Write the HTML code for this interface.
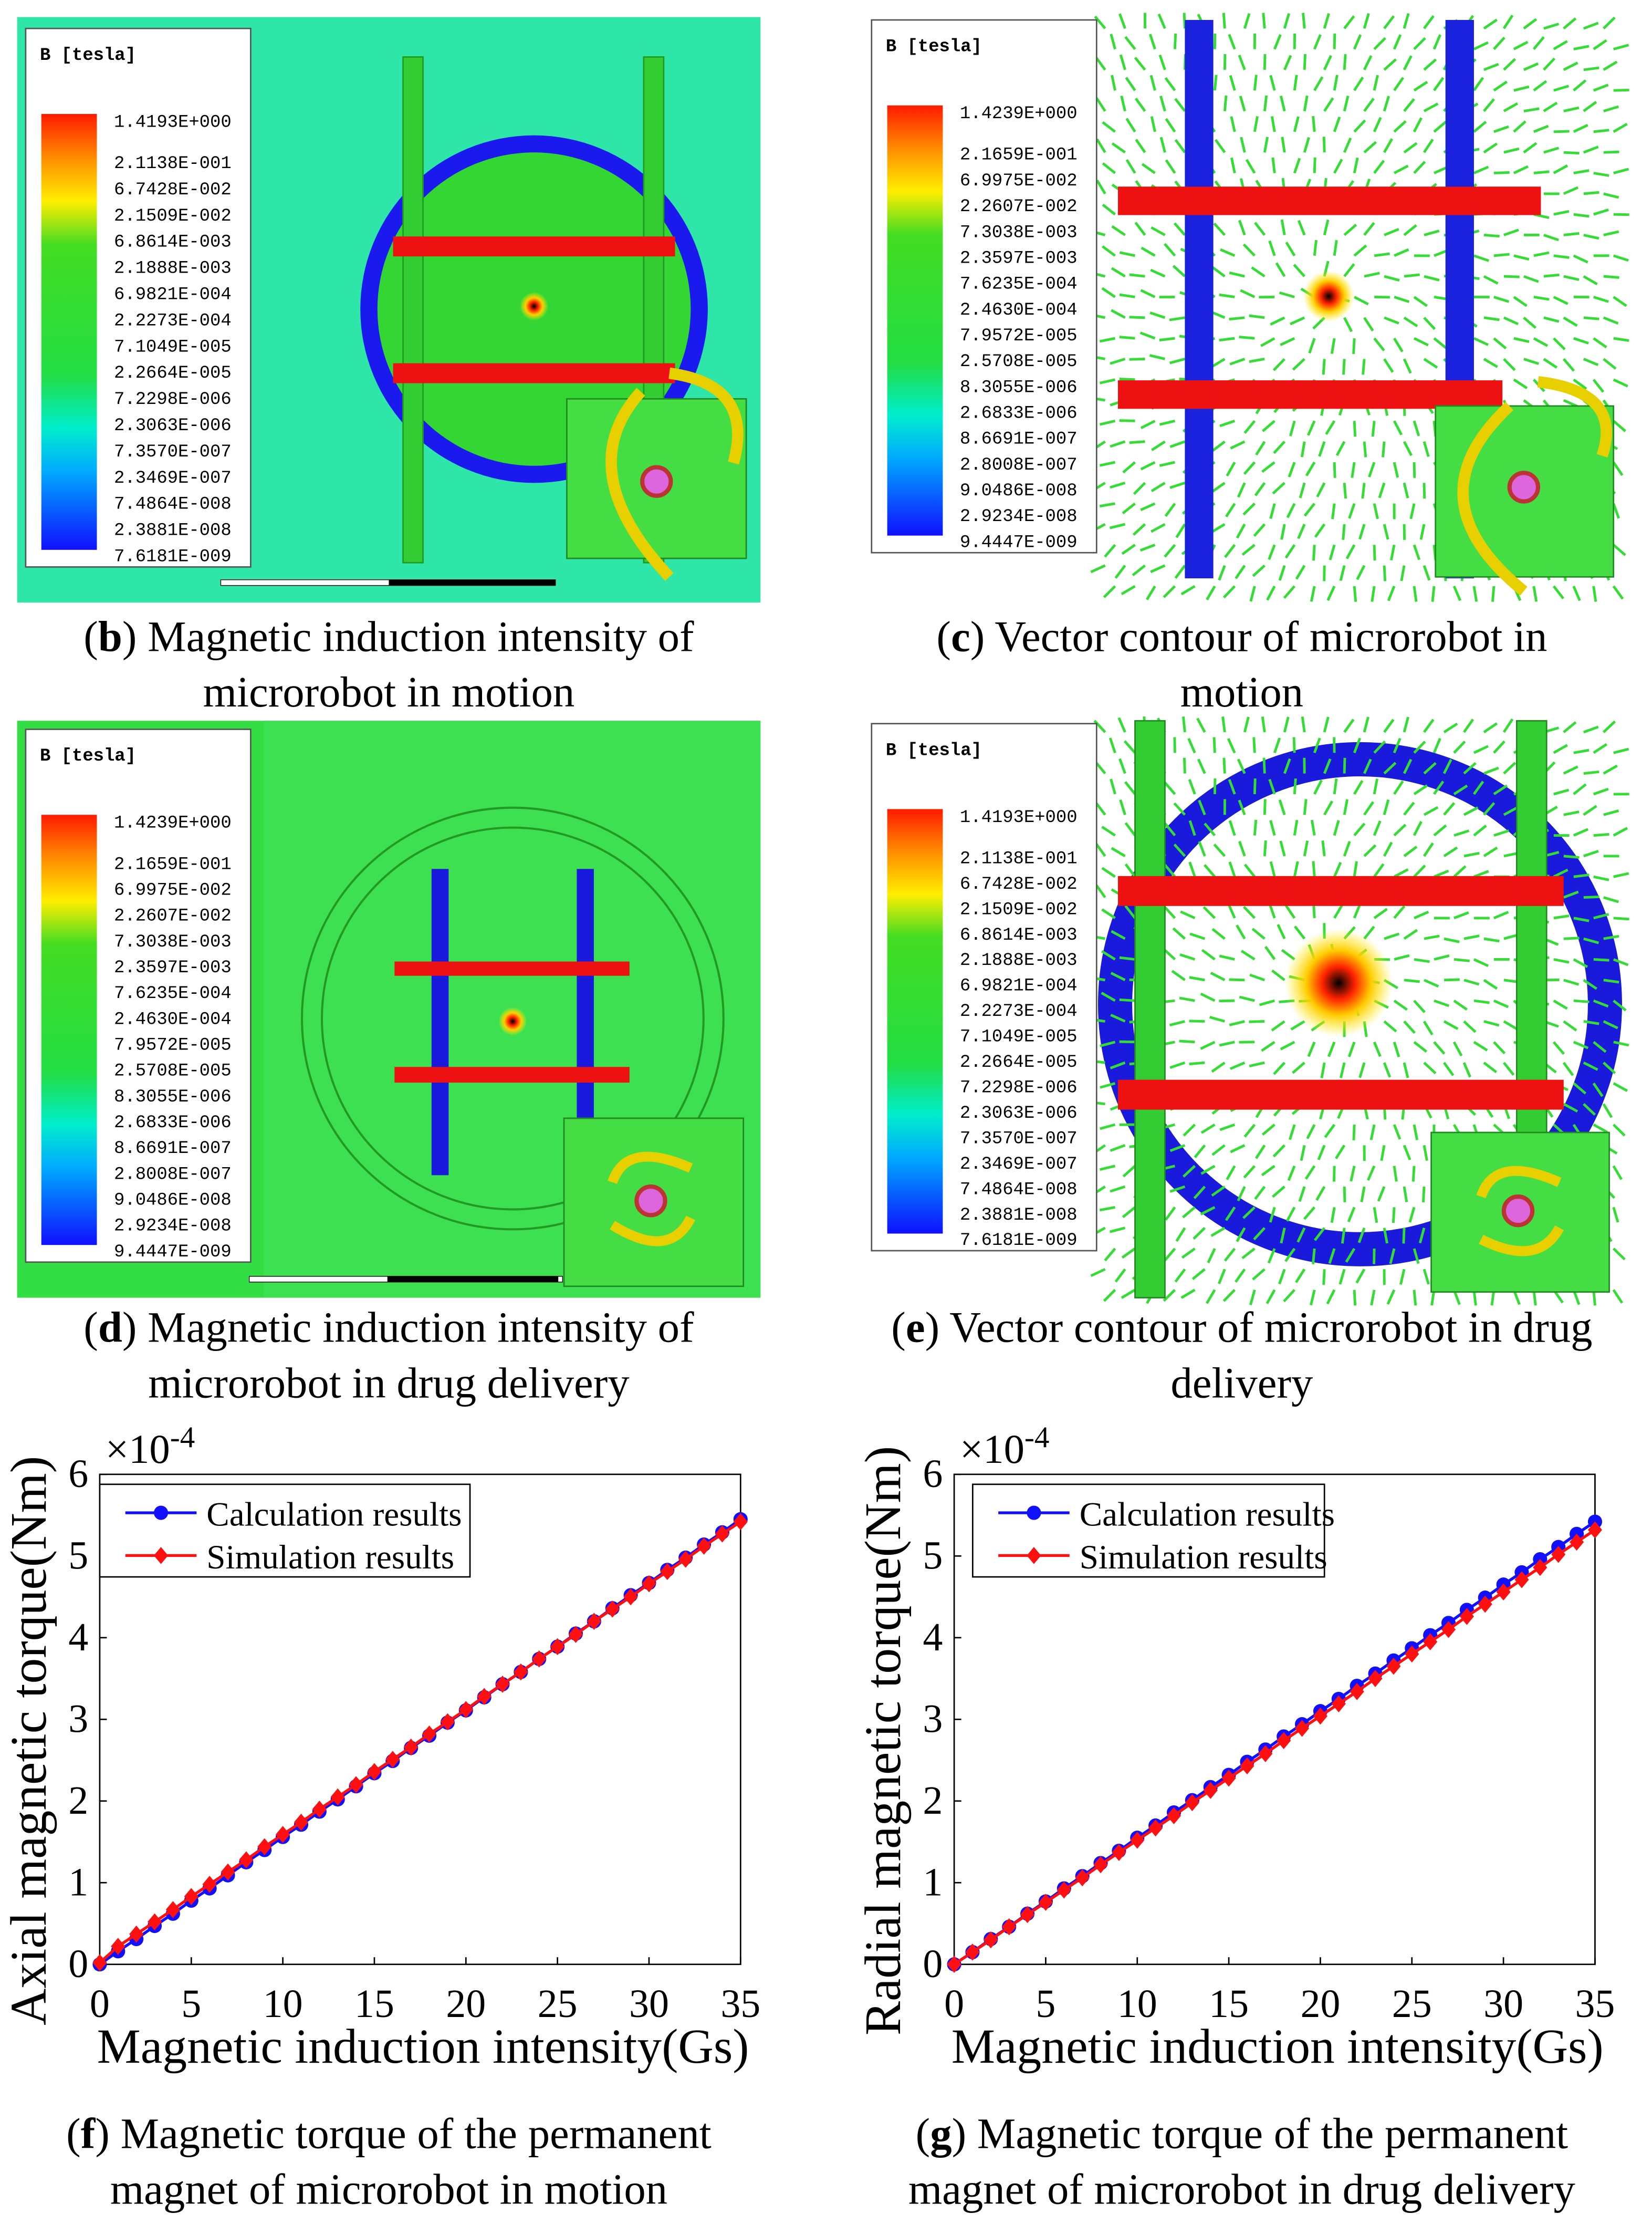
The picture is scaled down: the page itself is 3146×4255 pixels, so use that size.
<!DOCTYPE html>
<html><head><meta charset="utf-8"><style>
html,body{margin:0;padding:0;background:#fff;}
svg{display:block;}
.cap{font-family:"Liberation Serif",serif;font-size:30.5px;fill:#000;}
.leg{font-family:"Liberation Mono",monospace;font-size:12.5px;fill:#000;}
.tick{font-family:"Liberation Serif",serif;font-size:28px;fill:#000;}
</style></head><body>
<svg id="s" width="3146" height="4255" viewBox="0 0 1160 1569" xmlns="http://www.w3.org/2000/svg">
<defs>
<linearGradient id="cb" x1="0" y1="0" x2="0" y2="1">
<stop offset="0" stop-color="#ff1a00"/><stop offset="0.1" stop-color="#ff8c00"/><stop offset="0.2" stop-color="#ffee00"/><stop offset="0.3" stop-color="#44dd22"/><stop offset="0.6" stop-color="#22dd44"/><stop offset="0.72" stop-color="#00eecc"/><stop offset="0.82" stop-color="#00aaff"/><stop offset="1" stop-color="#1010ff"/>
</linearGradient>
<radialGradient id="hot"><stop offset="0" stop-color="#000"/><stop offset="0.3" stop-color="#ff2200"/><stop offset="0.6" stop-color="#ffcc00"/><stop offset="1" stop-color="#ffee00" stop-opacity="0"/></radialGradient>
</defs>

<g>
<rect x="12" y="12" width="522" height="411" fill="#2ee6a8"/>
<circle cx="375" cy="217" r="122" fill="#1a1aee"/>
<circle cx="375" cy="217" r="110" fill="#33d633"/>
<rect x="283" y="40" width="14" height="355" fill="#33cc33" stroke="#229922"/>
<rect x="452" y="40" width="14" height="355" fill="#33cc33" stroke="#229922"/>
<rect x="276" y="166" width="198" height="14" fill="#ee1111"/>
<rect x="276" y="255" width="198" height="14" fill="#ee1111"/>
<circle cx="375" cy="215" r="10" fill="url(#hot)"/>
<rect x="398" y="280" width="126" height="112" fill="#44dd44" stroke="#228822"/>
<circle cx="461" cy="338" r="10" fill="#dd66dd" stroke="#bb3333" stroke-width="3"/>
<path d="M450 275 Q400 330 470 405" fill="none" stroke="#e8d000" stroke-width="8"/>
<path d="M470 262 Q530 270 515 325" fill="none" stroke="#e8d000" stroke-width="8"/>
<rect x="155" y="407" width="235" height="4" fill="#fff" stroke="#000" stroke-width="0.5"/><rect x="273" y="407" width="117" height="4" fill="#000"/>
</g>
<g>
<rect x="770" y="12" width="365" height="406" fill="#fff"/>
<g id="arrC" stroke="#33dd33" stroke-width="1.8"></g>
<rect x="832" y="14" width="20" height="392" fill="#1a22dd"/>
<rect x="1015" y="14" width="20" height="392" fill="#1a22dd"/>
<rect x="785" y="131" width="297" height="20" fill="#ee1111"/>
<rect x="785" y="267" width="270" height="20" fill="#ee1111"/>
<circle cx="933" cy="208" r="18" fill="url(#hot)"/>
<rect x="1008" y="285" width="125" height="120" fill="#44dd44" stroke="#228822"/>
<circle cx="1070" cy="342" r="10" fill="#dd66dd" stroke="#bb3333" stroke-width="3"/>
<path d="M1060 285 Q990 350 1070 415" fill="none" stroke="#e8d000" stroke-width="8"/>
<path d="M1080 268 Q1140 275 1125 320" fill="none" stroke="#e8d000" stroke-width="8"/>
</g>
<g>
<rect x="12" y="506" width="522" height="405" fill="#33dd44"/>
<rect x="185" y="506" width="349" height="405" fill="#3de050"/>
<circle cx="360" cy="715" r="148" fill="none" stroke="#229922" stroke-width="1.5"/>
<circle cx="360" cy="715" r="134" fill="none" stroke="#229922" stroke-width="1.5"/>
<rect x="303" y="610" width="12" height="215" fill="#1a1add"/>
<rect x="405" y="610" width="12" height="215" fill="#1a1add"/>
<rect x="277" y="675" width="165" height="10" fill="#ee1111"/>
<rect x="277" y="749" width="165" height="11" fill="#ee1111"/>
<circle cx="360" cy="717" r="10" fill="url(#hot)"/>
<rect x="396" y="785" width="126" height="118" fill="#44dd44" stroke="#228822"/>
<circle cx="457" cy="843" r="10" fill="#dd66dd" stroke="#bb3333" stroke-width="3"/>
<path d="M430 830 Q440 800 485 820" fill="none" stroke="#e8d000" stroke-width="7"/>
<path d="M485 855 Q470 885 430 860" fill="none" stroke="#e8d000" stroke-width="7"/>
<rect x="175" y="896" width="220" height="4" fill="#fff" stroke="#000" stroke-width="0.5"/><rect x="272" y="896" width="120" height="4" fill="#000"/>
</g>
<g>
<rect x="770" y="506" width="365" height="405" fill="#fff"/>
<circle cx="955" cy="705" r="172" fill="none" stroke="#1a1add" stroke-width="24"/>
<g id="arrE" stroke="#33dd33" stroke-width="1.8"></g>
<rect x="797" y="506" width="21" height="405" fill="#33cc33" stroke="#228822"/>
<rect x="1065" y="506" width="21" height="300" fill="#33cc33" stroke="#228822"/>
<rect x="785" y="615" width="313" height="21" fill="#ee1111"/>
<rect x="785" y="758" width="313" height="21" fill="#ee1111"/>
<circle cx="940" cy="690" r="38" fill="url(#hot)"/>
<rect x="1005" y="795" width="125" height="112" fill="#44dd44" stroke="#228822"/>
<circle cx="1066" cy="850" r="10" fill="#dd66dd" stroke="#bb3333" stroke-width="3"/>
<path d="M1040 840 Q1050 810 1095 830" fill="none" stroke="#e8d000" stroke-width="7"/>
<path d="M1095 862 Q1080 890 1040 870" fill="none" stroke="#e8d000" stroke-width="7"/>
</g>
<g id="legends"></g>

<text class="cap" x="273" y="457" text-anchor="middle">(<tspan font-weight="bold">b</tspan>) Magnetic induction intensity of</text>
<text class="cap" x="273" y="496" text-anchor="middle">microrobot in motion</text>
<text class="cap" x="872" y="457" text-anchor="middle">(<tspan font-weight="bold">c</tspan>) Vector contour of microrobot in</text>
<text class="cap" x="872" y="496" text-anchor="middle">motion</text>
<text class="cap" x="273" y="942" text-anchor="middle">(<tspan font-weight="bold">d</tspan>) Magnetic induction intensity of</text>
<text class="cap" x="273" y="981" text-anchor="middle">microrobot in drug delivery</text>
<text class="cap" x="872" y="942" text-anchor="middle">(<tspan font-weight="bold">e</tspan>) Vector contour of microrobot in drug</text>
<text class="cap" x="872" y="981" text-anchor="middle">delivery</text>
<text class="cap" x="273" y="1508" text-anchor="middle">(<tspan font-weight="bold">f</tspan>) Magnetic torque of the permanent</text>
<text class="cap" x="273" y="1547" text-anchor="middle">magnet of microrobot in motion</text>
<text class="cap" x="872" y="1508" text-anchor="middle">(<tspan font-weight="bold">g</tspan>) Magnetic torque of the permanent</text>
<text class="cap" x="872" y="1547" text-anchor="middle">magnet of microrobot in drug delivery</text>
<g id="charts"></g>
</svg>
<script>
const xVals=[0,1,2,3,4,5,6,7,8,9,10,11,12,13,14,15,16,17,18,19,20,21,22,23,24,25,26,27,28,29,30,31,32,33,34,35];
const fCalc=[0,0.16,0.31,0.47,0.62,0.78,0.93,1.09,1.25,1.40,1.56,1.71,1.87,2.02,2.18,2.34,2.49,2.65,2.80,2.96,3.11,3.27,3.43,3.58,3.74,3.89,4.05,4.20,4.36,4.52,4.67,4.83,4.98,5.14,5.29,5.45];
const fSim=[0.02,0.22,0.37,0.52,0.67,0.83,0.98,1.13,1.28,1.44,1.59,1.74,1.90,2.05,2.20,2.36,2.51,2.66,2.82,2.97,3.12,3.28,3.43,3.58,3.74,3.89,4.04,4.20,4.35,4.50,4.66,4.81,4.96,5.12,5.27,5.42];
const gCalc=[0,0.15,0.31,0.46,0.62,0.77,0.93,1.08,1.24,1.39,1.55,1.70,1.86,2.01,2.17,2.32,2.48,2.63,2.79,2.94,3.10,3.25,3.41,3.56,3.72,3.87,4.03,4.18,4.34,4.49,4.65,4.80,4.96,5.11,5.27,5.42];
const gSim=[0,0.15,0.30,0.46,0.61,0.76,0.91,1.06,1.22,1.37,1.52,1.67,1.82,1.98,2.13,2.28,2.43,2.58,2.74,2.89,3.04,3.19,3.34,3.50,3.65,3.80,3.95,4.10,4.26,4.41,4.56,4.71,4.86,5.02,5.17,5.32];
const xTicks=[0,5,10,15,20,25,30,35];
const yTicks=[0,1,2,3,4,5,6];
const legA=["1.4193E+000","2.1138E-001","6.7428E-002","2.1509E-002","6.8614E-003","2.1888E-003","6.9821E-004","2.2273E-004","7.1049E-005","2.2664E-005","7.2298E-006","2.3063E-006","7.3570E-007","2.3469E-007","7.4864E-008","2.3881E-008","7.6181E-009"];
const legB=["1.4239E+000","2.1659E-001","6.9975E-002","2.2607E-002","7.3038E-003","2.3597E-003","7.6235E-004","2.4630E-004","7.9572E-005","2.5708E-005","8.3055E-006","2.6833E-006","8.6691E-007","2.8008E-007","9.0486E-008","2.9234E-008","9.4447E-009"];
const NS="http://www.w3.org/2000/svg";
function mk(tag,attrs,parent){const e=document.createElementNS(NS,tag);for(const k in attrs)e.setAttribute(k,attrs[k]);parent.appendChild(e);return e;}
[["arrC",770,14,365,395,933,208],["arrE",770,508,365,400,940,690]].forEach(a=>{
  const g=document.getElementById(a[0]);
  for(let i=0;i<26;i++)for(let j=0;j<28;j++){
    const x=a[1]+6+i*14+(j%2)*7,y=a[2]+6+j*14.5;
    const dx=x-a[5],dy=y-a[6];const ang=Math.atan2(dy,dx)+((i*7+j*3)%5)*0.15;
    const L=11;
    mk('line',{x1:x,y1:y,x2:x+L*Math.cos(ang),y2:y+L*Math.sin(ang)},g);
  }
});
const lg=document.getElementById('legends');
function legend(x0,y0,h,vals,name){
  const g=mk('g',{},lg);
  
  
  mk('rect',{x:x0,y:y0,width:158,height:h,fill:'#fff',stroke:'#555','stroke-width':1},g);
  const t=mk('text',{x:x0+10,y:y0+22,'class':'leg','font-weight':'bold'},g);t.textContent='B [tesla]';
  const top=y0+60,bot=y0+h-12;
  mk('rect',{x:x0+11,y:top,width:39,height:bot-top,fill:'url(#cb)'},g);
  const step=(bot-top-30)/15;
  vals.forEach((v,i)=>{const y=i==0?top+5:top+34+(i-1)*step;
    const tt=mk('text',{x:x0+62,y:y+4,'class':'leg'},g);tt.textContent=v;});
}
legend(18,20,378,legA,'legend-b');
legend(612,14,374,legB,'legend-c');
legend(18,512,374,legB,'legend-d');
legend(612,508,370,legA,'legend-e');
const ch=document.getElementById('charts');
function chart(x0,label,calc,sim,lgW,name){
  const g=mk('g',{},ch);
  
  
  const X=v=>x0+v*(450/35), Y=v=>1379-v*(344/6);
  mk('rect',{x:X(0),y:Y(6),width:450,height:344,fill:'#fff',stroke:'#000','stroke-width':1},g);
  xTicks.forEach(t=>{mk('line',{x1:X(t),x2:X(t),y1:1379,y2:1374,stroke:'#000'},g);
    const e=mk('text',{x:X(t),y:1416,'class':'tick','text-anchor':'middle'},g);e.textContent=t;
    
    });
  yTicks.forEach(t=>{mk('line',{x1:X(0),x2:X(0)+5,y1:Y(t),y2:Y(t),stroke:'#000'},g);
    const e=mk('text',{x:X(0)-8,y:Y(t)+9,'class':'tick','text-anchor':'end'},g);e.textContent=t;
    
    });
  const ex=mk('text',{x:X(0)+4,y:1027,'class':'tick',style:'font-size:29px'},g);ex.innerHTML='×10<tspan dy="-11" style="font-size:21px">-4</tspan>';
  const xl=mk('text',{x:X(17.5)+2,y:1448,'class':'tick','text-anchor':'middle',style:'font-size:34.5px'},g);xl.textContent='Magnetic induction intensity(Gs)';
  
  
  const yl=mk('text',{x:0,y:0,'class':'tick','text-anchor':'middle',style:'font-size:36px',transform:`translate(${x0-38},1222) rotate(-90)`},g);yl.textContent=label;
  
  
  const pc=xVals.map((x,i)=>X(x)+','+Y(calc[i])).join(' ');
  const l1=mk('polyline',{points:pc,fill:'none',stroke:'#1010ff','stroke-width':2},g);
  
  
  xVals.forEach((x,i)=>{const c=mk('circle',{cx:X(x),cy:Y(calc[i]),r:5,fill:'#1010ff'},g);
    
    });
  const ps=xVals.map((x,i)=>X(x)+','+Y(sim[i])).join(' ');
  const l2=mk('polyline',{points:ps,fill:'none',stroke:'#ff1010','stroke-width':2},g);
  
  
  xVals.forEach((x,i)=>{const cx=X(x),cy=Y(sim[i]);
    const d=mk('polygon',{points:`${cx},${cy-6} ${cx+5},${cy} ${cx},${cy+6} ${cx-5},${cy}`,fill:'#ff1010'},g);
    
    });
  const L=mk('g',{},g);
  
  
  const lx=x0+(name=='chart-g'?13:0);
  mk('rect',{x:lx,y:1042,width:lgW,height:65,fill:'#fff',stroke:'#000'},L);
  mk('line',{x1:lx+18,x2:lx+68,y1:1062,y2:1062,stroke:'#1010ff','stroke-width':2},L);
  mk('circle',{cx:lx+43,cy:1062,r:5,fill:'#1010ff'},L);
  mk('line',{x1:lx+18,x2:lx+68,y1:1092,y2:1092,stroke:'#ff1010','stroke-width':2},L);
  mk('polygon',{points:`${lx+43},1086 ${lx+48},1092 ${lx+43},1098 ${lx+38},1092`,fill:'#ff1010'},L);
  const a=mk('text',{x:lx+75,y:1071,'class':'tick',style:'font-size:24px'},L);a.textContent='Calculation results';
  const b=mk('text',{x:lx+75,y:1101,'class':'tick',style:'font-size:24px'},L);b.textContent='Simulation results';
}
chart(70,'Axial magnetic torque(Nm)',fCalc,fSim,260,'chart-f');
chart(670,'Radial magnetic torque(Nm)',gCalc,gSim,247,'chart-g');
</script>
</body></html>
